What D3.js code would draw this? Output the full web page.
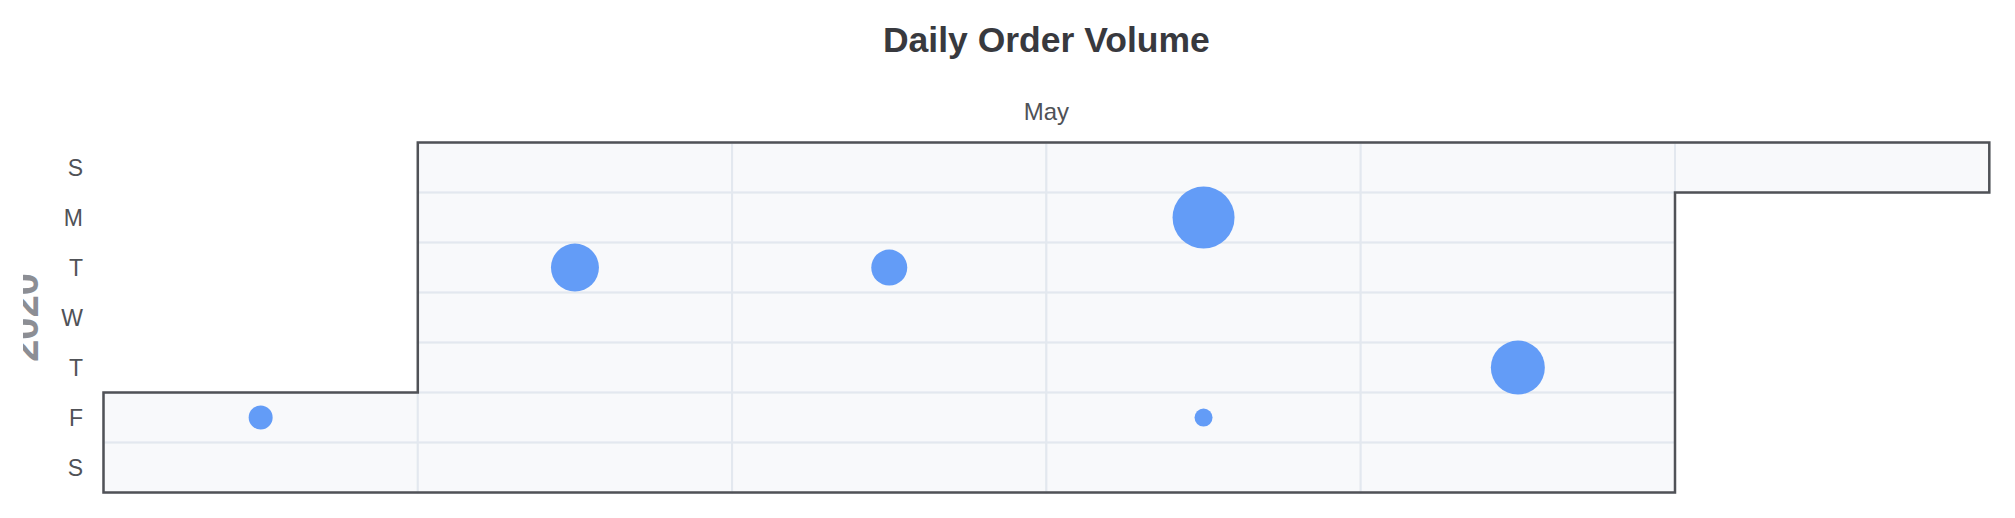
<!DOCTYPE html>
<html>
<head>
<meta charset="utf-8">
<script src="https://cdn.jsdelivr.net/npm/d3@7/dist/d3.min.js"></script>
<style>
  html, body { margin: 0; padding: 0; background: #ffffff; }
  svg { display: block; }
  text { font-family: "Liberation Sans", Arial, Helvetica, sans-serif; }
</style>
</head>
<body>
<svg id="chart" width="2015" height="518"></svg>
<script>
// ---- data ----
const title = "Daily Order Volume";
const monthLabel = "May";
const yearLabel = "2020";
const rangeStart = "2020-05-01";
const rangeEnd = "2020-05-31";
const dayLabels = ["S", "M", "T", "W", "T", "F", "S"];
const orderDates = ["2020-05-01", "2020-05-05", "2020-05-12", "2020-05-18", "2020-05-22", "2020-05-28"];
const orderValues = [120, 240, 180, 310, 90, 270];

// ---- layout ----
const W = 2015, H = 518;
const calLeft = 103.5, calTop = 142.6, cellW = 314.3, cellH = 50;

const parse = d3.timeParse("%Y-%m-%d");
const start = parse(rangeStart), end = parse(rangeEnd);
const days = d3.timeDay.range(start, d3.timeDay.offset(end, 1));
const weekOf = d => d3.timeWeek.count(start, d);   // Sunday-based weeks
const nWeeks = weekOf(end) + 1;

const x = d3.scaleLinear().domain([0, nWeeks]).range([calLeft, calLeft + nWeeks * cellW]);
const y = d3.scaleLinear().domain([0, 7]).range([calTop, calTop + 7 * cellH]);
const size = d3.scaleLinear().domain([0, d3.max(orderValues)]).range([0, 62]);

const svg = d3.select("#chart");

// title
svg.append("text")
  .attr("x", (x(0) + x(nWeeks)) / 2).attr("y", 52)
  .attr("text-anchor", "middle")
  .attr("font-size", 35.5).attr("font-weight", "bold")
  .attr("fill", "#38393e")
  .text(title);

// month label
svg.append("text")
  .attr("x", (x(0) + x(nWeeks)) / 2).attr("y", 120)
  .attr("text-anchor", "middle")
  .attr("font-size", 24)
  .attr("fill", "#505257")
  .text(monthLabel);

// cells
svg.append("g").selectAll("rect").data(days).join("rect")
  .attr("x", d => x(weekOf(d)))
  .attr("y", d => y(d.getDay()))
  .attr("width", cellW).attr("height", cellH)
  .attr("fill", "#f8f9fb")
  .attr("stroke", "#e3e8ef")
  .attr("stroke-width", 2);

// month outline
const fw = weekOf(start), fd = start.getDay();
const lw = weekOf(end), ld = end.getDay();
const outline = [
  [x(fw), y(fd)], [x(fw + 1), y(fd)], [x(fw + 1), y(0)],
  [x(lw + 1), y(0)], [x(lw + 1), y(ld + 1)], [x(lw), y(ld + 1)],
  [x(lw), y(7)], [x(fw), y(7)]
];
svg.append("path")
  .attr("d", d3.line()(outline) + "Z")
  .attr("fill", "none")
  .attr("stroke", "#505257")
  .attr("stroke-width", 2.5);

// day-of-week labels
svg.append("g").selectAll("text").data(dayLabels).join("text")
  .attr("x", 83)
  .attr("y", (d, i) => y(i + 0.5))
  .attr("dy", "0.36em")
  .attr("text-anchor", "end")
  .attr("font-size", 23)
  .attr("fill", "#505257")
  .text(d => d);

// year label (rotated, partially clipped as in reference)
svg.append("defs").append("clipPath").attr("id", "yearClip")
  .append("rect").attr("x", 23).attr("y", 0).attr("width", 40).attr("height", H);
svg.append("g").attr("clip-path", "url(#yearClip)")
  .append("text")
  .attr("transform", `translate(38, ${y(3.5)}) rotate(-90)`)
  .attr("text-anchor", "middle")
  .attr("font-size", 40).attr("font-weight", "bold")
  .attr("fill", "#8c8e94")
  .text(yearLabel);

// scatter points
const points = orderDates.map((s, i) => ({ date: parse(s), value: orderValues[i] }));
svg.append("g").selectAll("circle").data(points).join("circle")
  .attr("cx", d => x(weekOf(d.date) + 0.5))
  .attr("cy", d => y(d.date.getDay() + 0.5))
  .attr("r", d => size(d.value) / 2)
  .attr("fill", "#639cf7");
</script>
</body>
</html>
